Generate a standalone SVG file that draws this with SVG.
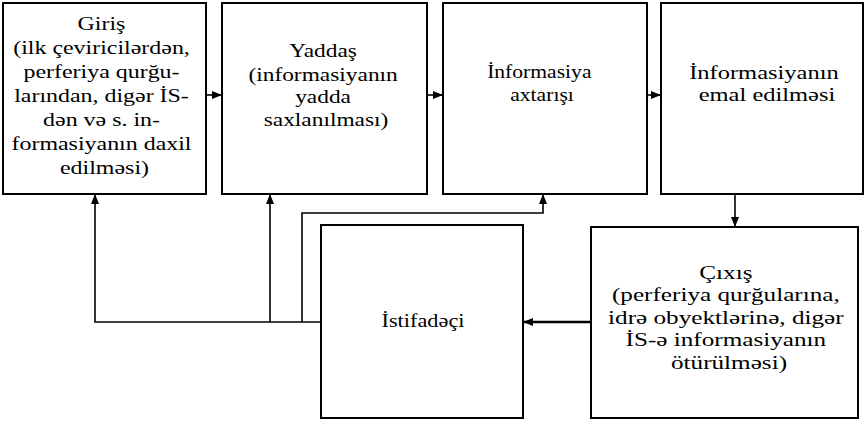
<svg xmlns="http://www.w3.org/2000/svg" width="867" height="423" viewBox="0 0 867 423">
<style>
.box{fill:#fff;stroke:#000;stroke-width:2}
.t{font-family:"Liberation Serif","Times New Roman",serif;font-size:18px;fill:#000;text-anchor:middle}
.c{fill:none;stroke:#000;stroke-width:1.6}
.ct{fill:none;stroke:#000;stroke-width:2.6}
</style>
<defs>
<marker id="ah" viewBox="0 0 10 8" refX="10" refY="4" markerWidth="10" markerHeight="8" markerUnits="userSpaceOnUse" orient="auto">
<path d="M0,0 L10,4 L0,8 z" fill="#000"/>
</marker>
</defs>
<rect width="867" height="423" fill="#fff"/>
<g id="giris">
<rect class="box" x="3" y="3" width="203" height="191"/>
<text class="t" transform="matrix(1.33 0 0 1 104.5 0)">
<tspan x="0" y="30">Giriş</tspan>
<tspan x="0" y="54">(ilk çeviricilərdən,</tspan>
<tspan x="0" y="78">perferiya qurğu-</tspan>
<tspan x="0" y="102">larından, digər İS-</tspan>
<tspan x="0" y="126">dən və s. in-</tspan>
<tspan x="0" y="150">formasiyanın daxil</tspan>
<tspan x="0" y="174">edilməsi)</tspan>
</text>
</g>
<g id="yaddas">
<rect class="box" x="222" y="3" width="205" height="191"/>
<text class="t" transform="matrix(1.3 0 0 1 326 0)">
<tspan x="0" y="57">Yaddaş</tspan>
<tspan x="0" y="81">(informasiyanın</tspan>
<tspan x="0" y="103">yadda</tspan>
<tspan x="0" y="126">saxlanılması)</tspan>
</text>
</g>
<g id="axtaris">
<rect class="box" x="443" y="3" width="204" height="191"/>
<text class="t" transform="matrix(1.2 0 0 1 542 0)">
<tspan x="0" y="78">İnformasiya</tspan>
<tspan x="0" y="101">axtarışı</tspan>
</text>
</g>
<g id="emal">
<rect class="box" x="661" y="3" width="202" height="191"/>
<text class="t" transform="matrix(1.36 0 0 1 767 0)">
<tspan x="0" y="79">İnformasiyanın</tspan>
<tspan x="0" y="101">emal edilməsi</tspan>
</text>
</g>
<g id="cixis">
<rect class="box" x="591" y="227" width="267" height="191"/>
<text class="t" transform="matrix(1.4 0 0 1 729 0)">
<tspan x="0" y="279">Çıxış</tspan>
<tspan x="0" y="301.5">(perferiya qurğularına,</tspan>
<tspan x="0" y="324">idrə obyektlərinə, digər</tspan>
<tspan x="0" y="346.5">İS-ə informasiyanın</tspan>
<tspan x="0" y="369">ötürülməsi)</tspan>
</text>
</g>
<g id="istifadeci">
<rect class="box" x="321" y="225" width="202" height="193"/>
<text class="t" transform="matrix(1.24 0 0 1 423 0)">
<tspan x="0" y="327">İstifadəçi</tspan>
</text>
</g>
<g id="connectors">
<path class="c" d="M206,95 H222" marker-end="url(#ah)"/>
<path class="c" d="M427,95 H443" marker-end="url(#ah)"/>
<path class="c" d="M647,95 H661" marker-end="url(#ah)"/>
<path class="c" d="M735,194 V227" marker-end="url(#ah)"/>
<path class="ct" d="M591,322 H523" marker-end="url(#ah)"/>
<path class="c" d="M321,322 H95 V194" marker-end="url(#ah)"/>
<path class="c" d="M270,322 V194" marker-end="url(#ah)"/>
<path class="c" d="M302,322 V213 H543 V194" marker-end="url(#ah)"/>
</g>
</svg>
